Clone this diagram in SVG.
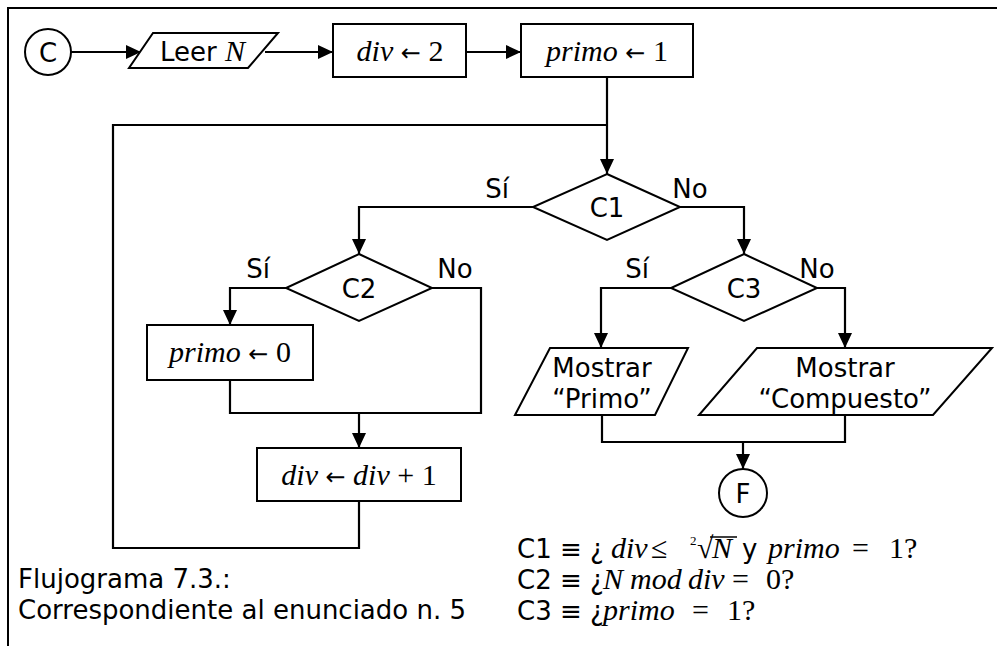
<svg xmlns="http://www.w3.org/2000/svg" width="997" height="646" viewBox="0 0 997 646">
  <style>
    .shape { fill: #fff; stroke: #000; stroke-width: 2; }
    .wire { fill: none; stroke: #000; stroke-width: 2.2; }
    .frame { fill: none; stroke: #000; stroke-width: 2; }
    .sans { font-family: "DejaVu Sans", Verdana, sans-serif; font-size: 26px; fill: #000; }
    .math { font-family: "Liberation Serif", "DejaVu Serif", serif; font-size: 30px; fill: #000; }
    .it { font-style: italic; }
    .arr { font-family: "DejaVu Sans", sans-serif; font-size: 24px; font-style: normal; }
    .mid { text-anchor: middle; }
  </style>
  <defs>
    <marker id="arrow" markerUnits="userSpaceOnUse" viewBox="0 0 15 14" refX="15" refY="7" markerWidth="15" markerHeight="14" orient="auto">
      <path d="M0,0 L15,7 L0,14 z" fill="#000"/>
    </marker>
  </defs>

  <rect width="997" height="646" fill="#fff"/>

  <!-- outer frame: top and left edges only -->
  <path class="frame" d="M8,646 V8 H997"/>

  <!-- connectors -->
  <g id="connectors">
    <path class="wire" d="M71,52 H141" marker-end="url(#arrow)"/>
    <path class="wire" d="M265,52 H333" marker-end="url(#arrow)"/>
    <path class="wire" d="M466,52 H521" marker-end="url(#arrow)"/>
    <path class="wire" d="M607,77 V174" marker-end="url(#arrow)"/>
    <path class="wire" d="M533,207 H359 V254" marker-end="url(#arrow)"/>
    <path class="wire" d="M680,207 H744 V254" marker-end="url(#arrow)"/>
    <path class="wire" d="M286,288 H230 V325" marker-end="url(#arrow)"/>
    <path class="wire" d="M432,288 H481 V413 H230 V380"/>
    <path class="wire" d="M359,413 V448" marker-end="url(#arrow)"/>
    <path class="wire" d="M359,501 V548 H113 V125 H607"/>
    <path class="wire" d="M671,288 H601 V348" marker-end="url(#arrow)"/>
    <path class="wire" d="M817,288 H845 V348" marker-end="url(#arrow)"/>
    <path class="wire" d="M602,415 V442 H845 V415"/>
    <path class="wire" d="M743,442 V469" marker-end="url(#arrow)"/>
  </g>

  <!-- start terminal -->
  <g id="start">
    <circle class="shape" cx="48" cy="52" r="23"/>
    <text class="sans mid" x="48" y="61.5">C</text>
  </g>

  <!-- read N -->
  <g id="read-n">
    <polygon class="shape" points="153,33 278,33 248,68 129,68"/>
    <text x="160" y="61"><tspan class="sans">Leer </tspan><tspan class="math it">N</tspan></text>
  </g>

  <!-- div <- 2 -->
  <g id="init-div">
    <rect class="shape" x="333" y="24" width="133" height="53"/>
    <text class="math mid" x="400" y="61"><tspan class="it">div</tspan> <tspan class="arr">←</tspan> 2</text>
  </g>

  <!-- primo <- 1 -->
  <g id="init-primo">
    <rect class="shape" x="521" y="24" width="172" height="53"/>
    <text class="math mid" x="607" y="61"><tspan class="it">primo</tspan>  <tspan class="arr">←</tspan> 1</text>
  </g>

  <!-- decision C1 -->
  <g id="c1">
    <polygon class="shape" points="607,174 680,207 607,240 533,207"/>
    <text class="sans mid" x="607" y="216.5">C1</text>
    <text class="sans mid" x="497" y="198">Sí</text>
    <text class="sans mid" x="690" y="198">No</text>
  </g>

  <!-- decision C2 -->
  <g id="c2">
    <polygon class="shape" points="359,254 432,288 359,321 286,288"/>
    <text class="sans mid" x="359" y="297.5">C2</text>
    <text class="sans mid" x="258" y="278">Sí</text>
    <text class="sans mid" x="455" y="278">No</text>
  </g>

  <!-- primo <- 0 -->
  <g id="set-primo">
    <rect class="shape" x="147" y="325" width="166" height="55"/>
    <text class="math mid" x="230" y="362"><tspan class="it">primo</tspan> <tspan class="arr">←</tspan> 0</text>
  </g>

  <!-- div <- div + 1 -->
  <g id="inc-div">
    <rect class="shape" x="257" y="448" width="204" height="53"/>
    <text class="math mid" x="359" y="485"><tspan class="it">div</tspan> <tspan class="arr">←</tspan> <tspan class="it">div</tspan> + 1</text>
  </g>

  <!-- decision C3 -->
  <g id="c3">
    <polygon class="shape" points="744,254 817,288 744,321 671,288"/>
    <text class="sans mid" x="744" y="297.5">C3</text>
    <text class="sans mid" x="637" y="278">Sí</text>
    <text class="sans mid" x="817" y="278">No</text>
  </g>

  <!-- output "Primo" -->
  <g id="out-primo">
    <polygon class="shape" points="550,348 688,348 655,415 515,415"/>
    <text class="sans mid" x="602" y="377">Mostrar</text>
    <text class="sans mid" x="602" y="408">“Primo”</text>
  </g>

  <!-- output "Compuesto" -->
  <g id="out-compuesto">
    <polygon class="shape" points="757,348 992,348 933,415 699,415"/>
    <text class="sans mid" x="845" y="377">Mostrar</text>
    <text class="sans mid" x="845" y="408">“Compuesto”</text>
  </g>

  <!-- end terminal -->
  <g id="end">
    <circle class="shape" cx="743" cy="493" r="24"/>
    <text class="sans mid" x="743" y="502.5">F</text>
  </g>

  <!-- caption -->
  <g id="caption">
    <text class="sans" x="18" y="588">Flujograma 7.3.:</text>
    <text class="sans" x="18" y="619">Correspondiente al enunciado n. 5</text>
  </g>

  <!-- condition legend -->
  <g id="legend">
    <text y="558">
      <tspan class="sans" x="517">C1 ≡ ¿</tspan>
      <tspan class="math it" x="611">div</tspan>
      <tspan class="math" x="651">≤</tspan>
      <tspan class="math" x="690" y="545" style="font-size:13px">2</tspan>
      <tspan class="math" x="697" y="558">√</tspan>
      <tspan class="math it" x="712">N</tspan>
      <tspan class="sans" x="742">y</tspan>
      <tspan class="math it" x="768">primo</tspan>
      <tspan class="math" x="852">=</tspan>
      <tspan class="math" x="889">1?</tspan>
    </text>
    <line x1="710" y1="537" x2="737" y2="537" stroke="#000" stroke-width="1.5"/>
    <text y="589">
      <tspan class="sans" x="517">C2 ≡ ¿</tspan>
      <tspan class="math it" x="603">N</tspan>
      <tspan class="math it" x="630">mod</tspan>
      <tspan class="math it" x="688">div</tspan>
      <tspan class="math" x="732">=</tspan>
      <tspan class="math" x="766">0?</tspan>
    </text>
    <text y="620">
      <tspan class="sans" x="517">C3 ≡ ¿</tspan>
      <tspan class="math it" x="603">primo</tspan>
      <tspan class="math" x="692">=</tspan>
      <tspan class="math" x="727">1?</tspan>
    </text>
  </g>
</svg>
